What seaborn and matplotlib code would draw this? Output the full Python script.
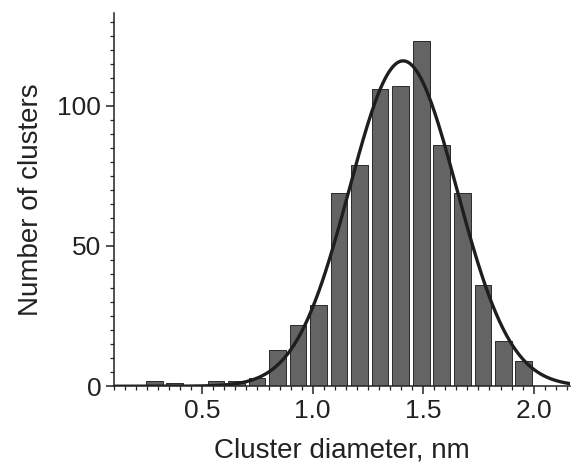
import numpy as np
import pandas as pd
import seaborn as sns
import matplotlib.pyplot as plt
from matplotlib.ticker import MultipleLocator

# Histogram bins (centre of each bar, nm) and counts
bin_centers = [0.283, 0.376, 0.469, 0.562, 0.655, 0.748, 0.840, 0.933, 1.026,
               1.119, 1.212, 1.305, 1.398, 1.491, 1.584, 1.677, 1.770, 1.862, 1.955]
counts = [2, 1, 0, 2, 2, 3, 13, 22, 29, 69, 79, 106, 107, 123, 86, 69, 36, 16, 9]

# Gaussian fit drawn over the histogram
fit_amplitude = 116
fit_center = 1.409
fit_sigma = 0.243

x_ticks = [0.5, 1.0, 1.5, 2.0]
y_ticks = [0, 50, 100]

sns.set_style('ticks')
plt.rcParams['font.family'] = ['Liberation Sans', 'DejaVu Sans']

df = pd.DataFrame({'diameter': bin_centers, 'count': counts})
step = bin_centers[1] - bin_centers[0]
edges = [c - step / 2 for c in bin_centers] + [bin_centers[-1] + step / 2]

fig = plt.figure(figsize=(5.72, 4.71), dpi=100)
ax = fig.add_axes([0.199, 0.18, 0.797, 0.792])

sns.histplot(data=df, x='diameter', weights='count', bins=edges, shrink=0.81,
             color='#646464', edgecolor='#2a2a2a', linewidth=0.7, alpha=1, ax=ax)

xs = np.linspace(0.1, 2.165, 400)
fit = pd.DataFrame({'x': xs,
                    'y': fit_amplitude * np.exp(-(xs - fit_center) ** 2 / (2 * fit_sigma ** 2))})
sns.lineplot(data=fit, x='x', y='y', color='#1e1e1e', linewidth=2.4, ax=ax)

ax.set_xlim(0.1, 2.163)
ax.set_ylim(0, 133)
ax.set_xticks(x_ticks)
ax.set_xticklabels(['0.5', '1.0', '1.5', '2.0'])
ax.set_yticks(y_ticks)
ax.xaxis.set_minor_locator(MultipleLocator(0.05))
ax.yaxis.set_minor_locator(MultipleLocator(5))
ax.tick_params(which='major', direction='out', length=6, width=1.1, labelsize=19,
               colors='#222222', pad=3)
ax.tick_params(which='minor', direction='out', length=3, width=0.9, colors='#222222')

sns.despine(ax=ax)
for s in ['left', 'bottom']:
    ax.spines[s].set_linewidth(1.1)
    ax.spines[s].set_color('#222222')

ax.set_xlabel('Cluster diameter, nm', fontsize=20, color='#222222', labelpad=11)
ax.set_ylabel('Number of clusters', fontsize=20, color='#222222', labelpad=10)

fig.savefig('out.png', dpi=100)
